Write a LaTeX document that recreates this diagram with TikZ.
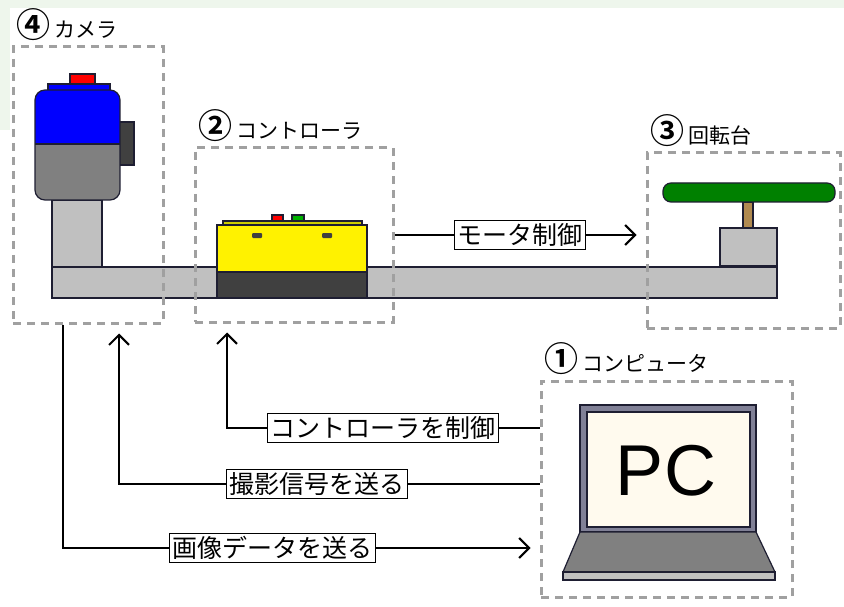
\documentclass[tikz,border=0pt]{standalone}
\usepackage{fontspec}
\usepackage{tikz}
\usetikzlibrary{arrows.meta,positioning}
\newfontfamily\jp{Noto Sans CJK JP}[BoldFont={Noto Sans CJK JP Bold}]
\newfontfamily\pcfont{Liberation Sans}
\definecolor{haze}{RGB}{238,246,236}
\definecolor{framegray}{RGB}{160,160,160}
\definecolor{partgray}{RGB}{192,192,192}
\definecolor{bodygray}{RGB}{128,128,128}
\definecolor{darkpart}{RGB}{64,64,64}
\definecolor{outline}{RGB}{30,30,50}
\definecolor{lidyellow}{RGB}{205,205,0}
\definecolor{stembrown}{RGB}{176,138,80}
\definecolor{screenframe}{RGB}{128,128,150}
\definecolor{screencream}{RGB}{255,250,238}
\tikzstyle{area}=[draw=framegray, line width=3pt, dash pattern=on 8pt off 6pt, inner sep=0pt]
\tikzstyle{title}=[inner sep=0pt, font=\jp\fontsize{21}{23}\selectfont]
\tikzstyle{msg}=[draw, fill=white, line width=1.2pt, inner sep=3pt, font=\jp\fontsize{25}{27}\selectfont]
\tikzstyle{conn}=[line width=2pt, shorten >=9pt, -{Straight Barb[length=10pt,width=20pt]}]
\tikzstyle{part}=[draw=outline, line width=1.2pt]
\newcommand{\circnum}[1]{{\bfseries\fontsize{34}{34}\selectfont #1}\hspace{4pt}}

\begin{document}
\begin{tikzpicture}[x=1pt,y=-1pt]
\useasboundingbox (0,0) rectangle (844,607);
\fill[haze] (0,0) rectangle (844,607);
\fill[white] (10,8) rectangle (844,607);
\fill[white] (0,130) rectangle (10,607);

% rail
\draw[part, fill=partgray] (52,267) rectangle (777,298);

% camera
\draw[part, fill=partgray] (52,200) rectangle (102,267);
\draw[part, fill=darkpart] (118,122) rectangle (134,165);
\draw[part, fill=red] (70,74) rectangle (95,84);
\draw[part, fill=blue] (48,84) rectangle (110,91);
\begin{scope}
\clip[rounded corners=10pt] (35,90) rectangle (120,200);
\fill[bodygray] (35,90) rectangle (120,200);
\fill[blue] (35,90) rectangle (120,144);
\end{scope}
\draw[part, rounded corners=10pt] (35,90) rectangle (120,200);
\draw[part] (35,144) -- (120,144);

% controller
\draw[part, fill=red] (272,215) rectangle (283,221);
\draw[part, fill=green!70!black] (292,215) rectangle (304,221);
\draw[part, fill=lidyellow] (223,221) rectangle (362,225);
\draw[part, fill=yellow] (217,225) rectangle (367,272);
\draw[part, fill=darkpart] (217,272) rectangle (367,298);
\fill[darkpart, rounded corners=1pt] (252,233) rectangle (262,238);
\fill[darkpart, rounded corners=1pt] (322,233) rectangle (332,238);

% turntable
\draw[part, fill=partgray] (720,228) rectangle (777,266);
\draw[part, fill=stembrown] (743,202) rectangle (753,228);
\draw[part, fill=green!50!black, rounded corners=8pt] (663,183) rectangle (835,202);

% computer
\draw[part, fill=screenframe] (580,405) rectangle (756,532);
\draw[part, fill=screencream] (587,412) rectangle (750,527);
\draw[part, fill=bodygray] (580,532) -- (756,532) -- (775,572) -- (563,572) -- cycle;
\draw[part, fill=partgray] (563,572) rectangle (775,580);
\node[font=\pcfont\fontsize{72}{72}\selectfont] (pctext) at (666,471) {PC};

% groups
\node[area, minimum width=150pt, minimum height=276pt] (camerabox) at (88,185) {};
\node[area, minimum width=198pt, minimum height=174pt] (ctrlbox) at (294,235) {};
\node[area, minimum width=193pt, minimum height=175pt] (tablebox) at (743.5,240.5) {};
\node[area, minimum width=251pt, minimum height=216pt] (pcbox) at (666.5,489) {};

\node[title, above right=5pt and 5pt of camerabox.north west] (cameratitle) {\circnum{④}カメラ};
\node[title, above right=5pt and 5pt of ctrlbox.north west] (ctrltitle) {\circnum{②}コントローラ};
\node[title, above right=5pt and 5pt of tablebox.north west] (tabletitle) {\circnum{③}回転台};
\node[title, above right=5pt and 5pt of pcbox.north west] (pctitle) {\circnum{①}コンピュータ};

% signals
\coordinate (ctrlleg) at (227,428);
\coordinate (shotleg) at (119,484);
\coordinate (imageleg) at (63,548);

\draw[conn] (ctrlbox.east) -- node[msg] (motormsg) {モータ制御} (tablebox.west |- ctrlbox.east);
\draw[conn] (pcbox.west |- ctrlleg) -| node[msg, pos=0.25] (ctrlmsg) {コントローラを制御} (ctrlbox.south -| ctrlleg);
\draw[conn] (pcbox.west |- shotleg) -| node[msg, pos=0.265] (shotmsg) {撮影信号を送る} (camerabox.south -| shotleg);
\draw[conn] (camerabox.south -| imageleg) |- node[msg, pos=0.72] (imagemsg) {画像データを送る} (pcbox.west |- imageleg);
\end{tikzpicture}
\end{document}
